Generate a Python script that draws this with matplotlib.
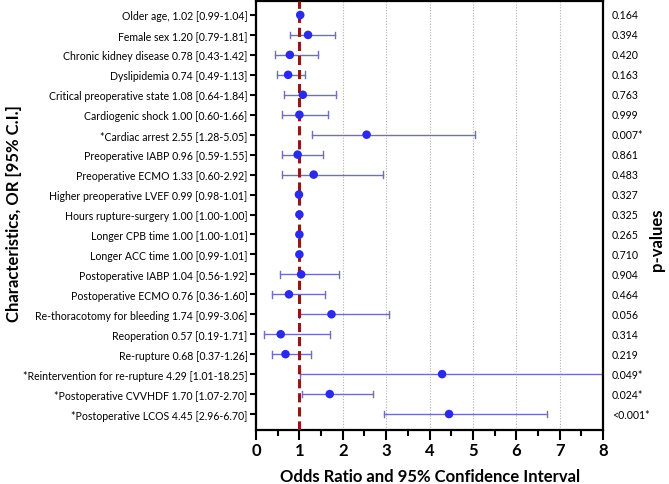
import matplotlib
matplotlib.use("Agg")
import matplotlib.pyplot as plt
from matplotlib.ticker import MultipleLocator
import numpy as np

plt.rcParams['font.family'] = ['Lato', 'DejaVu Sans']

labels = [
    "Older age, 1.02 [0.99-1.04]",
    "Female sex 1.20 [0.79-1.81]",
    "Chronic kidney disease 0.78 [0.43-1.42]",
    "Dyslipidemia 0.74 [0.49-1.13]",
    "Critical preoperative state 1.08 [0.64-1.84]",
    "Cardiogenic shock 1.00 [0.60-1.66]",
    "*Cardiac arrest 2.55 [1.28-5.05]",
    "Preoperative IABP 0.96 [0.59-1.55]",
    "Preoperative ECMO 1.33 [0.60-2.92]",
    "Higher preoperative LVEF 0.99 [0.98-1.01]",
    "Hours rupture-surgery 1.00 [1.00-1.00]",
    "Longer CPB time 1.00 [1.00-1.01]",
    "Longer ACC time 1.00 [0.99-1.01]",
    "Postoperative IABP 1.04 [0.56-1.92]",
    "Postoperative ECMO 0.76 [0.36-1.60]",
    "Re-thoracotomy for bleeding 1.74 [0.99-3.06]",
    "Reoperation 0.57 [0.19-1.71]",
    "Re-rupture 0.68 [0.37-1.26]",
    "*Reintervention for re-rupture 4.29 [1.01-18.25]",
    "*Postoperative CVVHDF 1.70 [1.07-2.70]",
    "*Postoperative LCOS 4.45 [2.96-6.70]",
]
odds = [1.02, 1.20, 0.78, 0.74, 1.08, 1.00, 2.55, 0.96, 1.33, 0.99, 1.00, 1.00,
        1.00, 1.04, 0.76, 1.74, 0.57, 0.68, 4.29, 1.70, 4.45]
lower = [0.99, 0.79, 0.43, 0.49, 0.64, 0.60, 1.28, 0.59, 0.60, 0.98, 1.00, 1.00,
         0.99, 0.56, 0.36, 0.99, 0.19, 0.37, 1.01, 1.07, 2.96]
upper = [1.04, 1.81, 1.42, 1.13, 1.84, 1.66, 5.05, 1.55, 2.92, 1.01, 1.00, 1.01,
         1.01, 1.92, 1.60, 3.06, 1.71, 1.26, 18.25, 2.70, 6.70]
pvals = ["0.164", "0.394", "0.420", "0.163", "0.763", "0.999", "0.007*", "0.861",
         "0.483", "0.327", "0.325", "0.265", "0.710", "0.904", "0.464", "0.056",
         "0.314", "0.219", "0.049*", "0.024*", "<0.001*"]
xticks = [0, 1, 2, 3, 4, 5, 6, 7, 8]

fig = plt.figure(figsize=(6.69, 4.85), dpi=100)
ax = fig.add_axes([256/669, 1 - 431/485, (603-256)/669, (431-2)/485])

n = len(labels)
y = np.arange(n)
odds_a = np.array(odds)
lo = np.array(lower)
hi = np.array(upper)

xmax = xticks[-1]
ax.set_xlim(0, xmax)
ax.set_ylim(n - 1 + 0.8, -0.7)

for gx in xticks[2:-1]:
    ax.axvline(gx, color='#b0b0b0', lw=0.8, ls=(0, (1, 1.5)), zorder=0)

err_color = '#7070b8'
for i in range(n):
    x0, x1 = lo[i], min(hi[i], xmax)
    ax.plot([x0, x1], [i, i], color=err_color, lw=1.0, zorder=2)
    ax.plot([x0, x0], [i - 0.17, i + 0.17], color=err_color, lw=1.0, zorder=2)
    if hi[i] <= xmax:
        ax.plot([x1, x1], [i - 0.17, i + 0.17], color=err_color, lw=1.0, zorder=2)

ax.axvline(1, color='#8b1a1a', lw=2.2, ls=(0, (3, 1.6)), zorder=3)
ax.scatter(odds_a, y, s=38, color='#2a2ae8', zorder=4, edgecolors='none')

ax.set_yticks(y)
ax.set_yticklabels(labels, fontsize=7.6)
ax.tick_params(axis='y', length=4, width=1.5, pad=2, color='black')
ax.set_xticks(xticks)
ax.set_xticklabels([str(v) for v in xticks], fontsize=12, fontweight='bold')
ax.xaxis.set_minor_locator(MultipleLocator(0.5))
ax.tick_params(axis='x', which='major', length=7, width=1.5, pad=2)
ax.tick_params(axis='x', which='minor', length=4, width=1.5)

for s in ax.spines.values():
    s.set_linewidth(1.6)

fig.text(430/669, 1 - 477/485, "Odds Ratio and 95% Confidence Interval",
         fontsize=12, fontweight='bold', ha='center', va='center')
fig.text(14/669, 1 - 214/485, "Characteristics, OR [95% C.I.]", rotation=90,
         fontsize=12, fontweight='bold', ha='center', va='center')

for i in range(n):
    ax.text(1.025, i, pvals[i], transform=ax.get_yaxis_transform(),
            fontsize=7.6, va='center', ha='left')

fig.text(657/669, 1 - 240/485, "p-values", rotation=90, fontsize=12,
         fontweight='bold', ha='center', va='center')

fig.savefig("out.png", dpi=100)
